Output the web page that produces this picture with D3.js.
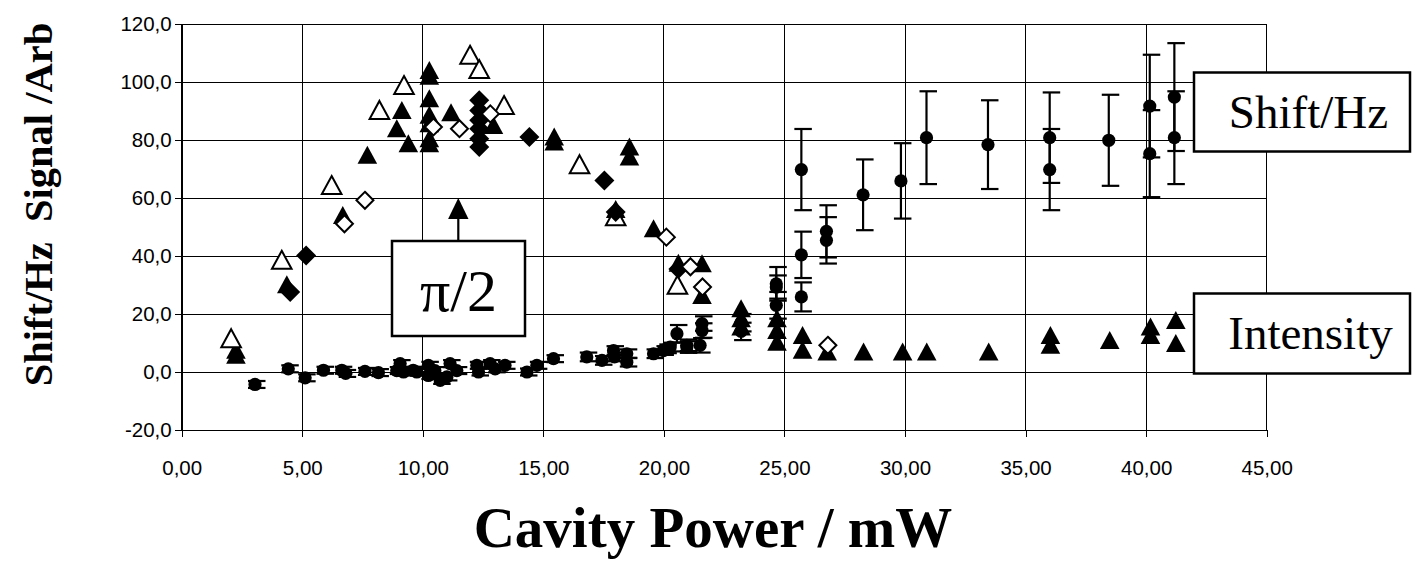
<!DOCTYPE html>
<html>
<head>
<meta charset="utf-8">
<script src="https://cdn.jsdelivr.net/npm/d3@7"></script>
<style>
  html, body { margin: 0; padding: 0; background: #fff; }
  svg { display: block; }
</style>
</head>
<body>
<svg id="chart" width="1414" height="565"></svg>
<script>
// ---- data ----
const xTicks = [0, 5, 10, 15, 20, 25, 30, 35, 40, 45];
const yTicks = [-20, 0, 20, 40, 60, 80, 100, 120];

const openTriX = [2.05, 4.15, 6.22, 8.2, 9.22, 11.96, 12.34, 13.37, 16.5, 18.0, 20.56];
const openTriY = [11.5, 38.5, 64.3, 90.2, 98.8, 109.2, 104.3, 91.9, 71.5, 53.5, 29.9];

const filledTriX = [2.25, 2.25, 4.36, 6.68, 7.7, 8.92, 9.13, 9.4, 10.27, 10.27, 10.27, 10.27, 10.27, 10.27, 10.27,
  11.17, 12.93, 15.45, 15.45, 18.0, 18.57, 18.57, 19.57, 20.6, 21.58, 21.58, 23.2, 23.2, 23.2,
  24.69, 24.69, 24.69, 25.75, 25.75, 26.77, 28.28, 29.9, 30.9, 33.47, 36.03, 36.03, 38.49,
  40.18, 40.18, 41.23, 41.23];
const filledTriY = [7.5, 5.8, 30.1, 54, 74.7, 83.9, 90.2, 78.7, 104, 102, 94.2, 88.5, 85.6, 80.4, 78.7,
  89.4, 85, 81, 79.3, 56, 77.6, 74.1, 49.4, 37.5, 37.3, 26.4, 21.8, 18.4, 15.5,
  18.4, 14.3, 10.3, 12.6, 7.5, 6.9, 6.9, 6.9, 6.9, 6.9, 12.6, 9.2, 10.9,
  15.5, 12.6, 17.8, 9.8];

const filledDiaX = [4.5, 5.16, 12.34, 12.34, 12.34, 12.34, 12.34, 12.34, 14.42, 17.53, 18.0, 20.6];
const filledDiaY = [27.6, 40.2, 93.7, 90.2, 86.8, 83.9, 80.4, 77.6, 81, 66, 55.2, 35.5];

const openDiaX = [6.75, 7.6, 10.44, 11.52, 12.8, 20.1, 21.1, 21.6, 26.8];
const openDiaY = [51.1, 59.2, 84.5, 83.9, 89, 46.5, 36.3, 29.3, 9.2];

const circX = [3.04, 4.42, 5.12, 5.88, 6.64, 6.8, 7.6, 8.16, 8.92, 9.06, 9.2, 9.6, 9.75, 10.23, 10.23, 10.5,
  10.72, 11.0, 11.13, 11.41, 12.24, 12.31, 12.79, 13.0, 13.41, 14.32, 14.73, 15.42, 16.8, 17.43,
  17.91, 17.95, 18.46, 18.46, 19.57, 19.98, 20.26, 20.54, 20.1, 20.95, 20.95, 21.58, 21.58, 21.5,
  23.2, 23.2, 24.66, 24.66, 24.66, 25.7, 25.7, 25.7, 26.74, 26.74, 28.26, 29.83, 30.89, 33.44,
  36.0, 36.0, 38.45, 40.15, 40.15, 41.17, 41.17];
const circY = [-4.3, 1.1, -2.0, 0.6, 0.6, -0.5, 0.2, -0.2, 0.5, 2.9, 0, 0.6, 0, 2.3, -1.2, 0.5,
  -2.9, -1.7, 2.9, 0.5, 2.3, 0, 2.9, 1.1, 2.3, 0, 2.3, 4.6, 5.2, 4.0,
  7.4, 5.2, 6.3, 3.4, 6.3, 7.4, 8.6, 13.2, 8, 8.6, 9.2, 16.7, 14.3, 9.2,
  17, 14, 30.4, 29.3, 23, 40.4, 25.9, 69.8, 48.5, 45.4, 61.1, 65.9, 80.8, 78.4,
  80.8, 69.8, 79.9, 91.7, 75.3, 94.8, 80.8];
const circErr = [1.2, 1.2, 1.2, 1.2, 1.2, 1.2, 1.2, 1.2, 1.2, 1.2, 1.2, 1.2, 1.2, 1.2, 1.2, 1.2,
  1.2, 1.2, 1.2, 1.2, 1.2, 1.2, 1.2, 1.2, 1.2, 1.2, 1.2, 1.2, 1.5, 1.5,
  1.5, 1.5, 1.5, 1.5, 1.5, 1.5, 1.5, 3, 1.5, 2, 2, 2.5, 2.5, 2.5,
  3, 3, 5.8, 4, 4.6, 8, 5, 14, 9, 8, 12.2, 13, 16, 15.3,
  15.6, 14, 15.7, 17.7, 15, 18.6, 16];

const labelPi = "π/2";
const labelShift = "Shift/Hz";
const labelIntensity = "Intensity";
const xTitle = "Cavity Power / mW";
const yTitle = "Shift/Hz  Signal /Arb";

// ---- layout ----
const svg = d3.select("#chart");
const x = d3.scaleLinear().domain([0, 45]).range([181.7, 1266.7]);
const y = d3.scaleLinear().domain([-20, 120]).range([430, 24]);
const fmtComma = (f) => (v) => d3.format(f)(v).replace(".", ",").replace("−", "-");

// gridlines
const grid = svg.append("g").attr("stroke", "#000").attr("stroke-width", 1).attr("shape-rendering", "crispEdges");
grid.selectAll("line.h").data(yTicks).join("line")
  .attr("x1", x(0)).attr("x2", x(45)).attr("y1", d => y(d)).attr("y2", d => y(d));
grid.selectAll("line.v").data(xTicks).join("line")
  .attr("x1", d => x(d)).attr("x2", d => x(d)).attr("y1", y(120)).attr("y2", y(-20));

// axes
const yAxis = svg.append("g").attr("transform", `translate(${x(0)},0)`)
  .call(d3.axisLeft(y).tickValues(yTicks).tickFormat(fmtComma(".1f")).tickSize(7).tickPadding(3));
const xAxis = svg.append("g").attr("transform", `translate(0,${y(-20)})`)
  .call(d3.axisBottom(x).tickValues(xTicks).tickFormat(fmtComma(".2f")).tickSize(7).tickPadding(23));
[xAxis, yAxis].forEach(a => {
  a.select(".domain").attr("stroke", "#000").attr("stroke-width", 1).attr("shape-rendering", "crispEdges");
  a.selectAll(".tick line").attr("stroke", "#000").attr("shape-rendering", "crispEdges");
  a.selectAll(".tick text").attr("fill", "#000")
    .style("font-family", "'Liberation Sans', Arial, sans-serif").style("font-size", "20.5px");
});

// marker helpers
const triPath = (cx, cy) => `M${cx},${cy - 9.5}L${cx + 9.8},${cy + 8.5}L${cx - 9.8},${cy + 8.5}Z`;
const diaPath = (cx, cy, r) => `M${cx},${cy - r}L${cx + r},${cy}L${cx},${cy + r}L${cx - r},${cy}Z`;

// filled triangles
svg.append("g").selectAll("path").data(filledTriX.map((v, i) => [v, filledTriY[i]])).join("path")
  .attr("d", d => triPath(x(d[0]), y(d[1]))).attr("fill", "#000");

// open triangles
svg.append("g").selectAll("path").data(openTriX.map((v, i) => [v, openTriY[i]])).join("path")
  .attr("d", d => triPath(x(d[0]), y(d[1]))).attr("fill", "#fff").attr("stroke", "#000").attr("stroke-width", 2);

// filled diamonds
svg.append("g").selectAll("path").data(filledDiaX.map((v, i) => [v, filledDiaY[i]])).join("path")
  .attr("d", d => diaPath(x(d[0]), y(d[1]), 10)).attr("fill", "#000");

// open diamonds
svg.append("g").selectAll("path").data(openDiaX.map((v, i) => [v, openDiaY[i]])).join("path")
  .attr("d", d => diaPath(x(d[0]), y(d[1]), 8.5)).attr("fill", "#fff").attr("stroke", "#000").attr("stroke-width", 2);

// circles with error bars
const circData = circX.map((v, i) => ({ x: v, y: circY[i], e: circErr[i] }));
const eb = svg.append("g").attr("stroke", "#000").attr("stroke-width", 2.2);
eb.selectAll("line.v").data(circData).join("line")
  .attr("x1", d => x(d.x)).attr("x2", d => x(d.x)).attr("y1", d => y(d.y + d.e)).attr("y2", d => y(d.y - d.e));
eb.selectAll("line.t").data(circData).join("line")
  .attr("x1", d => x(d.x) - 7).attr("x2", d => x(d.x) + 10.5).attr("y1", d => y(d.y + d.e)).attr("y2", d => y(d.y + d.e));
eb.selectAll("line.b").data(circData).join("line")
  .attr("x1", d => x(d.x) - 7).attr("x2", d => x(d.x) + 10.5).attr("y1", d => y(d.y - d.e)).attr("y2", d => y(d.y - d.e));
svg.append("g").selectAll("circle").data(circData).join("circle")
  .attr("cx", d => x(d.x)).attr("cy", d => y(d.y)).attr("r", 6.6).attr("fill", "#000");

// annotations
const serif = "'Liberation Serif', 'Times New Roman', serif";
// pi/2 arrow
svg.append("line").attr("x1", 458.3).attr("x2", 458.3).attr("y1", 241).attr("y2", 216).attr("stroke", "#000").attr("stroke-width", 2.2);
svg.append("path").attr("d", "M458.3,198L468.5,219L448.1,219Z").attr("fill", "#000");
svg.append("rect").attr("x", 392).attr("y", 241).attr("width", 133).attr("height", 95)
  .attr("fill", "#fff").attr("stroke", "#000").attr("stroke-width", 2.5);
svg.append("text").attr("x", 458.5).attr("y", 311).attr("text-anchor", "middle")
  .style("font-family", serif).style("font-size", "60px").text(labelPi);

svg.append("rect").attr("x", 1194).attr("y", 72.5).attr("width", 216).attr("height", 79)
  .attr("fill", "#fff").attr("stroke", "#000").attr("stroke-width", 2.5);
svg.append("text").attr("x", 1308.5).attr("y", 128).attr("text-anchor", "middle")
  .style("font-family", serif).style("font-size", "47px").text(labelShift);

svg.append("rect").attr("x", 1194).attr("y", 293.5).attr("width", 216).attr("height", 80)
  .attr("fill", "#fff").attr("stroke", "#000").attr("stroke-width", 2.5);
svg.append("text").attr("x", 1310.5).attr("y", 349).attr("text-anchor", "middle")
  .style("font-family", serif).style("font-size", "47px").text(labelIntensity);

// axis titles
svg.append("text").attr("x", 713).attr("y", 547).attr("text-anchor", "middle")
  .style("font-family", serif).style("font-weight", "bold").style("font-size", "57px").text(xTitle);
svg.append("text").attr("transform", "translate(52,204.5) rotate(-90)").attr("text-anchor", "middle")
  .style("font-family", serif).style("font-weight", "bold").style("font-size", "40.5px")
  .style("white-space", "pre").attr("xml:space", "preserve").text(yTitle);
</script>
</body>
</html>
